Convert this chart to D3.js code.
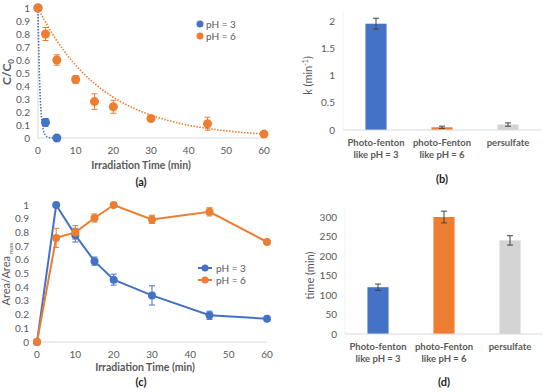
<!DOCTYPE html>
<html>
<head>
<meta charset="utf-8">
<script src="https://cdn.jsdelivr.net/npm/d3@7"></script>
<style>
  body { margin: 0; background: #fff; }
  text { font-family: Lato, "Open Sans", sans-serif; }
</style>
</head>
<body>
<script>
// panel (a): C/C0 vs time
var timeA = [0, 2, 5, 10, 15, 20, 30, 45, 60];
var ph6A = [1, 0.8, 0.6, 0.45, 0.28, 0.24, 0.15, 0.11, 0.03];
var ph6AErr = [0, 0.05, 0.04, 0.03, 0.06, 0.05, 0.02, 0.05, 0];
var timeA3 = [0, 2, 5];
var ph3A = [1, 0.12, 0.0];
var ph3AErr = [0, 0.03, 0];
var fitK = [1.95, 0.058]; // exponential trend line rate constants (pH 3, pH 6)

// panel (c): Area/Area max vs time
var timeC = [0, 5, 10, 15, 20, 30, 45, 60];
var ph3C = [0, 1, 0.78, 0.59, 0.455, 0.34, 0.195, 0.17];
var ph3CErr = [0, 0, 0.05, 0.03, 0.04, 0.07, 0.03, 0];
var ph6C = [0, 0.76, 0.8, 0.905, 1, 0.895, 0.95, 0.73];
var ph6CErr = [0, 0.07, 0.05, 0.03, 0, 0.03, 0.03, 0];

// panels (b) and (d): bars
var cats = ['Photo-fenton|like pH = 3', 'photo-Fenton|like pH = 6', 'persulfate'];
var kVals = [1.95, 0.05, 0.1];
var kErr = [0.1, 0.02, 0.03];
var tVals = [120, 300, 240];
var tErr = [8, 15, 12];

var blue = '#4472C4', orange = '#ED7D31', grey = '#D4D4D4';
var tickCol = '#595959', axisCol = '#D9D9D9';
var fmt = d3.format('.1~f');

var svg = d3.select('body').append('svg')
    .attr('width', 550)
    .attr('height', 392);

function axesXY(x, y, xTicks, yTicks, yFmt, drawYLine) {
    var g = svg.append('g');
    var x0 = x.range()[0], x1 = x.range()[1];
    var y0 = y.range()[0], y1 = y.range()[1];
    g.append('line').attr('x1', x0).attr('x2', x1).attr('y1', y0).attr('y2', y0)
        .attr('stroke', axisCol);
    if (drawYLine) {
        g.append('line').attr('x1', x0).attr('x2', x0).attr('y1', y0).attr('y2', y1)
            .attr('stroke', axisCol);
    }
    g.selectAll('.xt').data(xTicks).enter().append('text')
        .attr('x', function (d) { return x(d); })
        .attr('y', y0 + 16)
        .attr('text-anchor', 'middle')
        .attr('font-size', 10)
        .attr('fill', tickCol)
        .text(function (d) { return d; });
    g.selectAll('.yt').data(yTicks).enter().append('text')
        .attr('x', x0 - 8)
        .attr('y', function (d) { return y(d) + 3.5; })
        .attr('text-anchor', 'end')
        .attr('font-size', 10)
        .attr('fill', tickCol)
        .text(yFmt);
}

function errBars(x, y, xs, ys, es, col, cap) {
    var idx = d3.range(xs.length).filter(function (i) { return es[i] > 0; });
    var g = svg.append('g').attr('stroke', col).attr('stroke-width', 1);
    idx.forEach(function (i) {
        var cx = x(xs[i]);
        g.append('line').attr('x1', cx).attr('x2', cx)
            .attr('y1', y(ys[i] - es[i])).attr('y2', y(ys[i] + es[i]));
        [ys[i] - es[i], ys[i] + es[i]].forEach(function (v) {
            g.append('line').attr('x1', cx - cap).attr('x2', cx + cap)
                .attr('y1', y(v)).attr('y2', y(v));
        });
    });
}

function dots(x, y, xs, ys, col, r) {
    svg.append('g').selectAll('circle').data(xs).enter().append('circle')
        .attr('cx', function (d) { return x(d); })
        .attr('cy', function (d, i) { return y(ys[i]); })
        .attr('r', r)
        .attr('fill', col);
}

function caption(txt, cx, cy) {
    svg.append('text').attr('x', cx).attr('y', cy)
        .attr('text-anchor', 'middle').attr('font-size', 11)
        .attr('font-weight', 'bold').attr('fill', '#222')
        .text(txt);
}

function xTitle(cx, cy) {
    svg.append('text').attr('x', cx).attr('y', cy)
        .attr('text-anchor', 'middle').attr('font-size', 10.5)
        .attr('font-weight', 'bold').attr('fill', tickCol)
        .text('Irradiation Time (min)');
}

// ---------- (a) ----------
var xA = d3.scaleLinear().domain([0, 60]).range([38, 264]);
var yA = d3.scaleLinear().domain([0, 1]).range([138, 8]);
axesXY(xA, yA, d3.range(0, 61, 10), d3.range(0, 11).map(function (d) { return d / 10; }), fmt, true);

var fitLine = d3.line().x(function (d) { return xA(d[0]); }).y(function (d) { return yA(d[1]); });
var tFine3 = d3.range(0, 5.001, 0.05);
var tFine6 = d3.range(0, 60.001, 0.5);
svg.append('path')
    .attr('d', fitLine(tFine3.map(function (t) { return [t, Math.exp(-fitK[0] * t)]; })))
    .attr('fill', 'none').attr('stroke', blue).attr('stroke-width', 1.6)
    .attr('stroke-dasharray', '1.5,1.5');
svg.append('path')
    .attr('d', fitLine(tFine6.map(function (t) { return [t, Math.exp(-fitK[1] * t)]; })))
    .attr('fill', 'none').attr('stroke', orange).attr('stroke-width', 1.6)
    .attr('stroke-dasharray', '1.5,1.5');

errBars(xA, yA, timeA, ph6A, ph6AErr, orange, 3);
errBars(xA, yA, timeA3, ph3A, ph3AErr, blue, 3);
dots(xA, yA, timeA3, ph3A, blue, 4.5);
dots(xA, yA, timeA, ph6A, orange, 4.5);

var yLabA = svg.append('text')
    .attr('transform', 'translate(11,72) rotate(-90)')
    .attr('text-anchor', 'middle').attr('font-size', 12)
    .attr('font-weight', 'bold').attr('fill', tickCol);
yLabA.append('tspan').text('C/C');
yLabA.append('tspan').attr('font-size', 8).attr('dy', 3).text('0');

var legA = [['pH = 3', blue], ['pH = 6', orange]];
legA.forEach(function (d, i) {
    svg.append('circle').attr('cx', 200).attr('cy', 24 + i * 12).attr('r', 3.5).attr('fill', d[1]);
    svg.append('text').attr('x', 206).attr('y', 27.5 + i * 12)
        .attr('font-size', 10).attr('fill', tickCol).text(d[0]);
});
xTitle(141, 169);
caption('(a)', 141, 186);

// ---------- (c) ----------
var xC = d3.scaleLinear().domain([0, 60]).range([37, 267]);
var yC = d3.scaleLinear().domain([0, 1]).range([342, 205]);
axesXY(xC, yC, d3.range(0, 61, 10), d3.range(0, 11).map(function (d) { return d / 10; }), fmt, false);

var lineC = d3.line().x(function (d) { return xC(d[0]); }).y(function (d) { return yC(d[1]); });
svg.append('path').attr('d', lineC(d3.zip(timeC, ph3C)))
    .attr('fill', 'none').attr('stroke', blue).attr('stroke-width', 2);
svg.append('path').attr('d', lineC(d3.zip(timeC, ph6C)))
    .attr('fill', 'none').attr('stroke', orange).attr('stroke-width', 2);
errBars(xC, yC, timeC, ph3C, ph3CErr, blue, 3);
errBars(xC, yC, timeC, ph6C, ph6CErr, orange, 3);
dots(xC, yC, timeC, ph3C, blue, 4);
dots(xC, yC, timeC, ph6C, orange, 4);

var yLabC = svg.append('text')
    .attr('transform', 'translate(10,274) rotate(-90)')
    .attr('text-anchor', 'middle').attr('font-size', 11)
    .attr('fill', tickCol);
yLabC.append('tspan').text('Area/Area');
yLabC.append('tspan').attr('font-size', 6.5).attr('dy', 3).text(' max');

var legC = [['pH = 3', blue], ['pH = 6', orange]];
legC.forEach(function (d, i) {
    var ly = 268 + i * 12;
    svg.append('line').attr('x1', 198).attr('x2', 212).attr('y1', ly).attr('y2', ly)
        .attr('stroke', d[1]).attr('stroke-width', 2);
    svg.append('circle').attr('cx', 205).attr('cy', ly).attr('r', 3.5).attr('fill', d[1]);
    svg.append('text').attr('x', 216).attr('y', ly + 3.5)
        .attr('font-size', 10).attr('fill', tickCol).text(d[0]);
});
xTitle(145, 371);
caption('(c)', 141, 386);

// ---------- bar panels ----------
function barPanel(vals, errs, ticks, yMax, top, bottom, left, right, yTitle, capY) {
    var x = d3.scaleBand().domain(cats).range([left, right]).paddingInner(0.68).paddingOuter(0.34);
    var y = d3.scaleLinear().domain([0, yMax]).range([bottom, top]);
    var cols = [blue, orange, grey];
    svg.append('line').attr('x1', left).attr('x2', left).attr('y1', bottom).attr('y2', y(ticks[ticks.length - 1]) - 10)
        .attr('stroke', '#EFEFEF');
    svg.append('g').selectAll('rect').data(vals).enter().append('rect')
        .attr('x', function (d, i) { return x(cats[i]); })
        .attr('y', function (d) { return y(d); })
        .attr('width', x.bandwidth())
        .attr('height', function (d) { return bottom - y(d); })
        .attr('fill', function (d, i) { return cols[i]; });
    svg.append('line').attr('x1', left).attr('x2', right).attr('y1', bottom).attr('y2', bottom)
        .attr('stroke', axisCol);
    var g = svg.append('g').attr('stroke', '#404040').attr('stroke-width', 1);
    vals.forEach(function (v, i) {
        var cx = x(cats[i]) + x.bandwidth() / 2;
        g.append('line').attr('x1', cx).attr('x2', cx).attr('y1', y(v - errs[i])).attr('y2', y(v + errs[i]));
        [v - errs[i], v + errs[i]].forEach(function (e) {
            g.append('line').attr('x1', cx - 3).attr('x2', cx + 3).attr('y1', y(e)).attr('y2', y(e));
        });
    });
    svg.append('g').selectAll('text').data(ticks).enter().append('text')
        .attr('x', left - 8)
        .attr('y', function (d) { return y(d) + 3.5; })
        .attr('text-anchor', 'end').attr('font-size', 10).attr('fill', tickCol)
        .text(function (d) { return fmt(d); });
    cats.forEach(function (c, i) {
        var cx = x(c) + x.bandwidth() / 2;
        c.split('|').forEach(function (line, j) {
            svg.append('text').attr('x', cx).attr('y', bottom + 16 + j * 12)
                .attr('text-anchor', 'middle').attr('font-size', 9.5)
                .attr('font-weight', 'bold').attr('fill', tickCol)
                .text(line);
        });
    });
    var t = svg.append('text')
        .attr('transform', 'translate(' + (left - 31) + ',' + ((top + bottom) / 2) + ') rotate(-90)')
        .attr('text-anchor', 'middle').attr('font-size', 11).attr('fill', tickCol);
    yTitle(t);
    caption(capY[0], (left + right) / 2, capY[1]);
}

barPanel(kVals, kErr, [0, 0.5, 1, 1.5, 2], 2, 21, 130, 343, 541, function (t) {
    t.append('tspan').text('k (min');
    t.append('tspan').attr('font-size', 7).attr('dy', -4).text('-1');
    t.append('tspan').attr('dy', 4).text(')');
}, ['(b)', 183]);

barPanel(tVals, tErr, d3.range(0, 301, 50), 300, 217, 334, 345, 543, function (t) {
    t.text('time (min)');
}, ['(d)', 386]);
</script>
</body>
</html>
